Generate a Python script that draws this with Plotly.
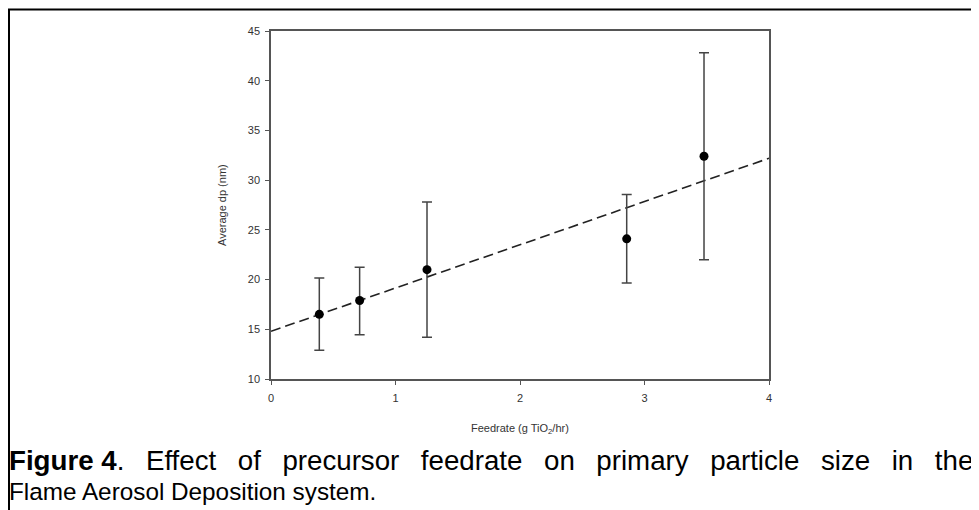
import plotly.graph_objects as go

# ---- data ----
feedrate = [0.388, 0.712, 1.253, 2.857, 3.478]
avg_dp = [16.5, 17.9, 21.0, 24.1, 32.4]
err_plus = [3.65, 3.35, 6.8, 4.45, 10.4]
err_minus = [3.6, 3.45, 6.8, 4.45, 10.4]
fit_x = [0.0, 4.0]
fit_y = [14.8, 32.2]
x_ticks = [0, 1, 2, 3, 4]
y_ticks = [10, 15, 20, 25, 30, 35, 40, 45]

caption_words_1 = ["<b>Figure 4</b>.", "Effect", "of", "precursor", "feedrate", "on",
                   "primary", "particle", "size", "in", "the"]
caption_line_2 = "Flame Aerosol Deposition system."

# page is offset by the 8px body margin; work in figure pixels
OFF = 8
W, H = 979 - OFF, 510 - OFF
L, R, T, B = 271 - OFF, 769 - OFF, 30.5 - OFF, 379.5 - OFF


def px2x(px):
    return (px - OFF - L) / (R - L)


def py2y(py):
    return (B - (py - OFF)) / (B - T)


FONT = "Arial, Liberation Sans, sans-serif"
TXT = "#333333"

fig = go.Figure()
fig.add_trace(go.Scatter(
    x=fit_x, y=fit_y, mode="lines",
    line=dict(color="#222222", width=1.6, dash="10px,5px"),
    hoverinfo="skip", showlegend=False,
))
fig.add_trace(go.Scatter(
    x=feedrate, y=avg_dp, mode="markers",
    marker=dict(color="black", size=9),
    error_y=dict(type="data", symmetric=False, array=err_plus, arrayminus=err_minus,
                 color="#444444", thickness=1.5, width=5),
    showlegend=False,
))

axis_common = dict(
    showline=True, linecolor="#555555", linewidth=1.5, mirror=True,
    ticks="outside", ticklen=4, tickwidth=1, tickcolor="#555555",
    showgrid=False, zeroline=False,
    tickfont=dict(family=FONT, size=11, color=TXT),
)

# first caption line is justified across the column: widen the word gaps
caption_1 = " \u2002".join(caption_words_1)

fig.update_layout(
    width=W, height=H,
    margin=dict(l=L, r=W - R, t=T, b=H - B, pad=0),
    paper_bgcolor="white", plot_bgcolor="white",
    xaxis=dict(range=[0, 4], tickvals=x_ticks, ticklabelstandoff=4, **axis_common),
    yaxis=dict(range=[10, 45], tickvals=y_ticks, ticklabelstandoff=3, **axis_common),
    shapes=[dict(type="rect", xref="paper", yref="paper",
                 x0=px2x(9), x1=px2x(1010), y0=py2y(540), y1=py2y(9),
                 line=dict(color="black", width=2), fillcolor="rgba(0,0,0,0)", layer="above")],
    annotations=[
        dict(text="Feedrate (g TiO<sub>2</sub>/hr)", xref="paper", yref="paper",
             x=px2x(520), y=py2y(430), xanchor="center", yanchor="middle", showarrow=False,
             font=dict(family=FONT, size=11, color=TXT)),
        dict(text="Average dp (nm)", xref="paper", yref="paper", textangle=-90,
             x=px2x(222), y=py2y(205), xanchor="center", yanchor="middle", showarrow=False,
             font=dict(family=FONT, size=11, color=TXT)),
        dict(text=caption_1,
             xref="paper", yref="paper", x=px2x(7), y=py2y(461),
             xanchor="left", yanchor="middle", showarrow=False,
             font=dict(family=FONT, size=27.7, color="black")),
        dict(text=caption_line_2,
             xref="paper", yref="paper", x=px2x(7), y=py2y(492),
             xanchor="left", yanchor="middle", showarrow=False,
             font=dict(family=FONT, size=24.3, color="black")),
    ],
)

fig.write_html("out.html")
